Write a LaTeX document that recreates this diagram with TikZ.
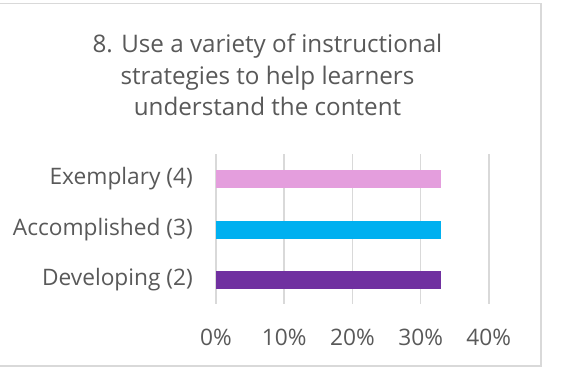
\documentclass[tikz,border=0pt]{standalone}
\usepackage{fontspec}
\setmainfont{Open Sans}
\definecolor{txt}{HTML}{595959}
\definecolor{gridc}{HTML}{D9D9D9}
\definecolor{pinkbar}{HTML}{E49EDD}
\definecolor{bluebar}{HTML}{00B0F0}
\definecolor{purplebar}{HTML}{7030A0}
\tikzset{
  frame/.style={draw=gridc, line width=1.5pt},
  gridline/.style={draw=gridc, line width=1.5pt},
  cat/.style={anchor=east, text=txt, font=\fontsize{22.7}{26}\selectfont, inner sep=0pt},
  tick/.style={anchor=center, text=txt, font=\fontsize{22.7}{26}\selectfont, inner sep=0pt},
  title/.style={align=center, text=txt, font=\fontsize{24.2}{31.5}\selectfont, inner sep=0pt}
}
\begin{document}
\begin{tikzpicture}[x=1pt, y=-1pt]
\useasboundingbox (0,0) rectangle (561,367);
\fill[white] (0,0) rectangle (561,367);
\coordinate (tl) at (0,3.5);
\coordinate (tr) at (541,3.5);
\coordinate (br) at (541,366);
\coordinate (bl) at (0,366);
\draw[frame] (tl) -- (tr) -- (br) -- (bl);
\node[title] (title) at (267.5,75) {8. Use a variety of instructional\\strategies to help learners\\understand the content};
% gridlines
\foreach \i/\lab in {0/0\%,1/10\%,2/20\%,3/30\%,4/40\%}{
  \coordinate (gt\i) at ({216+68.2*\i},154);
  \coordinate (gb\i) at ({216+68.2*\i},304);
  \draw[gridline] (gt\i) -- (gb\i);
  \node[tick] (tk\i) at ({216+68.2*\i},337) {\lab};
}
% bars
\fill[pinkbar] (216,170) rectangle (441,188);
\fill[bluebar] (216,221) rectangle (441,239);
\fill[purplebar] (216,271) rectangle (441,289);
\node[cat] (c4) at (193,179) {Exemplary (4)};
\node[cat] (c3) at (193,230) {Accomplished (3)};
\node[cat] (c2) at (193,280) {Developing (2)};
\end{tikzpicture}
\end{document}
